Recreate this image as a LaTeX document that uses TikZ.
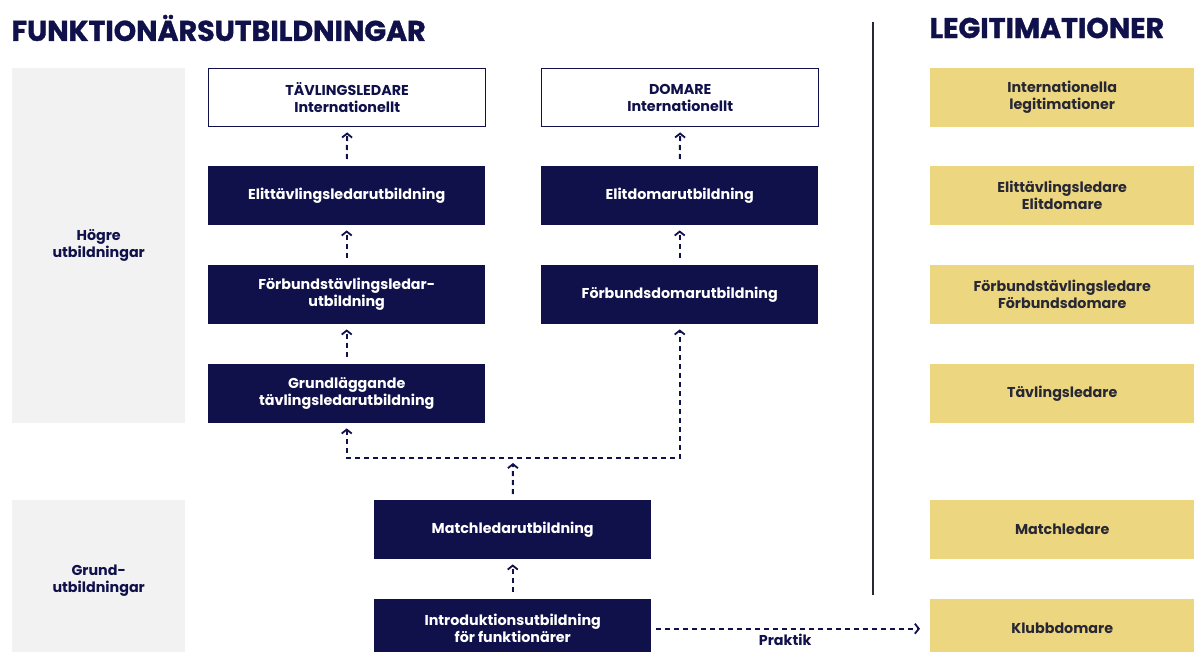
\documentclass[tikz,border=0pt]{standalone}
\usepackage{fontspec}
\setmainfont{Poppins}
\newfontfamily\headfam[BoldFeatures={FakeBold=1.2}]{Poppins}
\usetikzlibrary{arrows.meta}
\definecolor{navy}{RGB}{16,17,74}
\definecolor{legit}{RGB}{237,214,128}
\definecolor{panel}{RGB}{242,242,242}
\definecolor{ink}{RGB}{40,40,52}
\newcommand{\boxfont}{\fontsize{14.3}{17}\selectfont\bfseries}
\newcommand{\headfont}{\headfam\fontsize{28.5}{32}\selectfont\bfseries}
\begin{document}
\begin{tikzpicture}[x=1pt,y=-1pt,
    navybox/.style={fill=navy,text=white,minimum width=277pt,minimum height=59pt,inner sep=0pt,anchor=north west,align=center,font=\boxfont},
    topbox/.style={draw=navy,line width=1.4pt,fill=white,text=navy,minimum width=277pt,minimum height=58pt,inner sep=0pt,anchor=north west,align=center,font=\boxfont},
    legitbox/.style={fill=legit,text=ink,minimum width=264pt,minimum height=59pt,inner sep=0pt,anchor=north west,align=center,font=\boxfont},
    panelbox/.style={fill=panel,text=navy,minimum width=173pt,inner sep=0pt,anchor=north west,align=center,font=\boxfont},
    flow/.style={navy,line width=2pt,dash pattern=on 5pt off 4pt,>={Straight Barb[length=4pt,width=10pt,line width=1.8pt]}}
  ]
  \useasboundingbox (0,0) rectangle (1194,652);
  \node[anchor=west,text=navy,font=\headfont] (title) at (8,28) {FUNKTIONÄRSUTBILDNINGAR};
  \node[anchor=west,text=navy,font=\headfont] (legtitle) at (926,28) {LEGITIMATIONER};
  \draw[ink,line width=2.6pt] (873,22) -- (873,595);

  \node[panelbox,minimum height=355pt] (hogre) at (12,68) {Högre\\utbildningar};
  \node[panelbox,minimum height=160pt] (grundpanel) at (12,500) {Grund-\\utbildningar};

  \node[topbox] (tlint) at (208,68) {TÄVLINGSLEDARE\\Internationellt};
  \node[topbox] (domint) at (541,68) {DOMARE\\Internationellt};
  \node[navybox] (elittl) at (208,166) {Elittävlingsledarutbildning};
  \node[navybox] (elitdom) at (541,166) {Elitdomarutbildning};
  \node[navybox] (fbtl) at (208,265) {Förbundstävlingsledar-\\utbildning};
  \node[navybox] (fbdom) at (541,265) {Förbundsdomarutbildning};
  \node[navybox] (grundtl) at (208,364) {Grundläggande\\tävlingsledarutbildning};
  \node[navybox] (match) at (374,500) {Matchledarutbildning};
  \node[navybox] (intro) at (374,599) {Introduktionsutbildning\\för funktionärer};

  \node[legitbox] (intleg) at (930,68) {Internationella\\legitimationer};
  \node[legitbox] (elitleg) at (930,166) {Elittävlingsledare\\Elitdomare};
  \node[legitbox] (fbleg) at (930,265) {Förbundstävlingsledare\\Förbundsdomare};
  \node[legitbox] (tlleg) at (930,364) {Tävlingsledare};
  \node[legitbox] (matchleg) at (930,500) {Matchledare};
  \node[legitbox] (klubb) at (930,599) {Klubbdomare};

  \draw[flow,->,shorten >=5pt,shorten <=7pt] (elittl.north) -- (tlint.south);
  \draw[flow,->,shorten >=5pt,shorten <=7pt] (elitdom.north) -- (domint.south);
  \draw[flow,->,shorten >=5pt,shorten <=7pt] (fbtl.north) -- (elittl.south);
  \draw[flow,->,shorten >=5pt,shorten <=7pt] (fbdom.north) -- (elitdom.south);
  \draw[flow,->,shorten >=5pt,shorten <=7pt] (grundtl.north) -- (fbtl.south);
  \coordinate (junc) at (513,458);
  \draw[flow,<->,shorten >=5pt,shorten <=5pt] (grundtl.south) -- (grundtl.south |- junc) -| (fbdom.south);
  \draw[flow,->,shorten >=5pt,shorten <=6pt] (match.north) -- (junc);
  \draw[flow,->,shorten >=5pt,shorten <=7pt] (intro.north) -- (match.south);
  \draw[flow,->,shorten >=10pt,shorten <=5pt] (intro.east |- klubb.west) -- (klubb.west) node[pos=0.48,below=1pt,text=navy,font=\boxfont] (praktik) {Praktik};
\end{tikzpicture}
\end{document}
